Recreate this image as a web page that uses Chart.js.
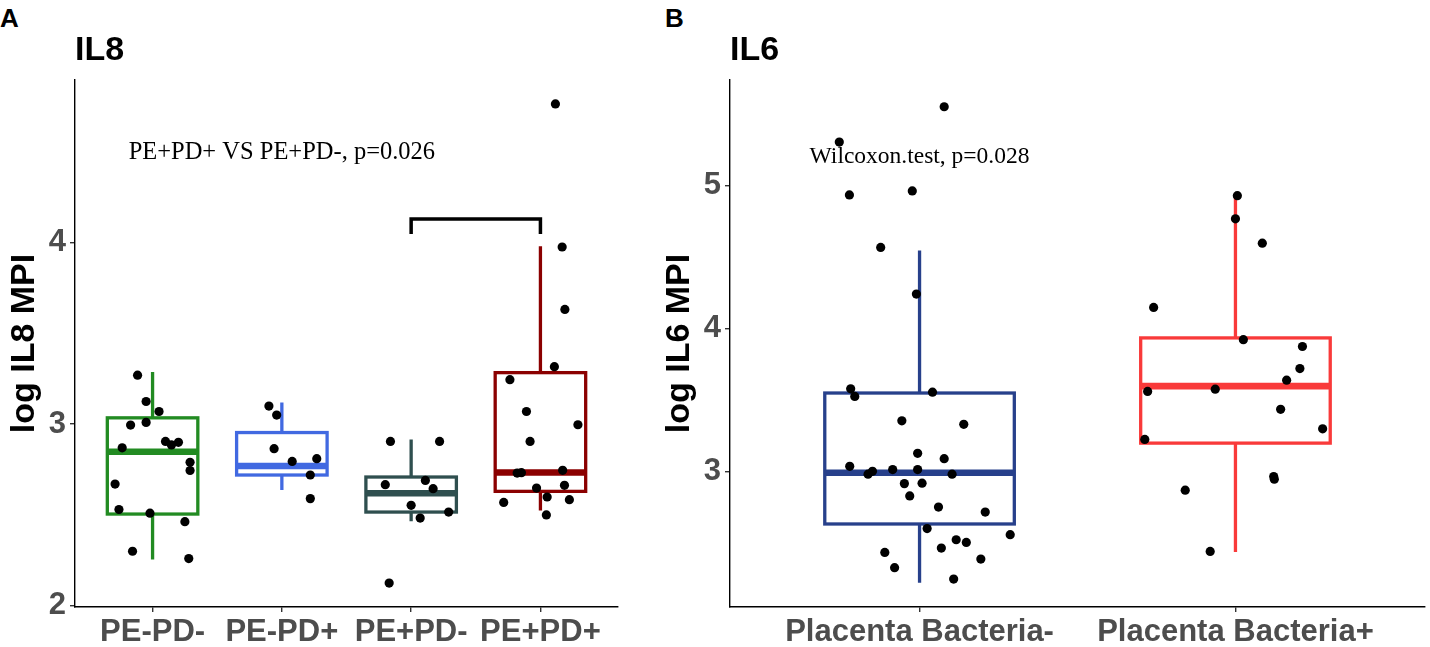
<!DOCTYPE html>
<html>
<head>
<meta charset="utf-8">
<title>IL8 / IL6</title>
<script src="https://cdn.jsdelivr.net/npm/chart.js@4.4.1/dist/chart.umd.min.js"></script>
<style>
  html, body { margin: 0; padding: 0; background: #fff; }
  body { position: relative; width: 1430px; height: 647px; overflow: hidden; font-family: 'Liberation Sans', Arial, sans-serif; }
  .panel { position: absolute; top: 0; height: 647px; }
  #panel-a { left: 0; width: 640px; }
  #panel-b { left: 655px; width: 775px; }
  .tag { position: absolute; top: 5px; font-size: 26px; font-weight: bold; line-height: 1; color: #000; }
</style>
</head>
<body>
<div class="tag" style="left:0">A</div>
<div class="tag" style="left:665px">B</div>
<div class="panel" id="panel-a"><canvas id="chart-a"></canvas></div>
<div class="panel" id="panel-b"><canvas id="chart-b"></canvas></div>
<script>
// ---- Panel A: IL8 ----
const categoriesA = ['PE-PD-', 'PE-PD+', 'PE+PD-', 'PE+PD+'];
const yTicksA = [2, 3, 4];
const boxColorsA = ['#228B22', '#4169E1', '#2F4F4F', '#8B0000'];
const q1A = [2.505, 2.72, 2.516, 2.63];
const medianA = [2.848, 2.77, 2.62, 2.734];
const q3A = [3.035, 2.954, 2.709, 3.284];
const whiskerLowA = [2.254, 2.637, 2.465, 2.525];
const whiskerHighA = [3.287, 3.12, 2.915, 3.98];

const pePdNegValues = [3.27, 3.125, 3.07, 2.995, 3.01, 2.87, 2.905, 2.886, 2.90, 2.79, 2.745, 2.67, 2.53, 2.51, 2.463, 2.30, 2.26];
const pePdNegJitter = [-0.116, -0.05, 0.05, -0.17, -0.05, -0.235, 0.10, 0.146, 0.20, 0.29, 0.29, -0.29, -0.26, -0.02, 0.25, -0.155, 0.28];
const pePdPosValues = [3.10, 3.05, 2.865, 2.795, 2.81, 2.72, 2.59];
const pePdPosJitter = [-0.10, -0.04, -0.06, 0.08, 0.27, 0.22, 0.22];
const pePosPdNegValues = [2.905, 2.905, 2.667, 2.69, 2.645, 2.553, 2.483, 2.516, 2.125];
const pePosPdNegJitter = [-0.16, 0.22, -0.2, 0.11, 0.17, 0.0, 0.07, 0.29, -0.17];
const pePosPdPosValues = [4.764, 3.976, 3.632, 3.317, 3.245, 3.07, 2.997, 2.905, 2.731, 2.733, 2.746, 2.648, 2.663, 2.569, 2.599, 2.584, 2.50];
const pePosPdPosJitter = [0.116, 0.168, 0.189, 0.108, -0.236, -0.108, 0.29, -0.08, -0.18, -0.147, 0.172, -0.03, 0.186, -0.284, 0.052, 0.224, 0.046];

// ---- Panel B: IL6 ----
const categoriesB = ['Placenta Bacteria-', 'Placenta Bacteria+'];
const yTicksB = [3, 4, 5];
const boxColorsB = ['#27408B', '#F93A3A'];
const q1B = [2.635, 3.20];
const medianB = [2.993, 3.598];
const q3B = [3.55, 3.935];
const whiskerLowB = [2.225, 2.44];
const whiskerHighB = [4.546, 4.92];

const bacteriaNegValues = [5.55, 5.303, 4.934, 4.962, 4.567, 4.241, 3.579, 3.526, 3.556, 3.356, 3.331, 3.129, 3.091, 3.038, 3.003, 2.983, 3.015, 3.015, 2.983, 2.917, 2.92, 2.831, 2.753, 2.718, 2.603, 2.56, 2.525, 2.506, 2.467, 2.436, 2.39, 2.33, 2.25];
const bacteriaNegJitter = [0.078, -0.254, -0.222, -0.023, -0.123, -0.01, -0.218, -0.205, 0.041, -0.056, 0.14, -0.006, 0.078, -0.221, -0.149, -0.163, -0.085, -0.006, 0.103, -0.048, 0.008, -0.031, 0.06, 0.208, 0.024, 0.287, 0.116, 0.148, 0.069, -0.11, 0.194, -0.079, 0.108];
const bacteriaPosValues = [4.929, 4.767, 4.597, 4.148, 3.923, 3.875, 3.721, 3.64, 3.577, 3.561, 3.436, 3.30, 3.226, 2.966, 2.948, 2.871, 2.443];
const bacteriaPosJitter = [0.006, 0.0, 0.085, -0.259, 0.025, 0.212, 0.204, 0.162, -0.064, -0.278, 0.143, 0.276, -0.287, 0.121, 0.123, -0.159, -0.08];

const SANS = "'Liberation Sans', Arial, Helvetica, sans-serif";
const SERIF = "'Liberation Serif', 'Times New Roman', serif";

// box + whiskers, drawn under the jittered points
const boxLayer = {
  id: 'boxLayer',
  beforeDatasetsDraw(chart, args, opts) {
    const { ctx, scales: { x, y } } = chart;
    ctx.save();
    opts.q1.forEach((q1, i) => {
      const c = i + 1;
      const left = x.getPixelForValue(c - opts.halfWidth);
      const right = x.getPixelForValue(c + opts.halfWidth);
      const mid = x.getPixelForValue(c);
      const top = y.getPixelForValue(opts.q3[i]);
      const bottom = y.getPixelForValue(q1);
      const med = y.getPixelForValue(opts.median[i]);
      ctx.strokeStyle = opts.colors[i];
      ctx.lineWidth = 3.3;
      ctx.beginPath();
      ctx.moveTo(mid, y.getPixelForValue(opts.whiskerHigh[i]));
      ctx.lineTo(mid, top);
      ctx.moveTo(mid, bottom);
      ctx.lineTo(mid, y.getPixelForValue(opts.whiskerLow[i]));
      ctx.stroke();
      ctx.fillStyle = '#fff';
      ctx.fillRect(left, top, right - left, bottom - top);
      ctx.strokeRect(left, top, right - left, bottom - top);
      ctx.lineWidth = 6.6;
      ctx.beginPath();
      ctx.moveTo(left, med);
      ctx.lineTo(right, med);
      ctx.stroke();
    });
    ctx.restore();
  }
};

// p-value text and optional comparison bracket
const annotationLayer = {
  id: 'annotationLayer',
  afterDatasetsDraw(chart, args, opts) {
    const { ctx, scales: { x, y } } = chart;
    ctx.save();
    ctx.font = opts.fontSize + 'px ' + SERIF;
    ctx.fillStyle = '#000';
    ctx.textAlign = 'center';
    ctx.textBaseline = 'middle';
    ctx.fillText(opts.text, x.getPixelForValue(opts.textX), y.getPixelForValue(opts.textY));
    if (opts.bracket) {
      const [from, to, yTop, yTip] = opts.bracket;
      ctx.strokeStyle = '#000';
      ctx.lineWidth = 3.5;
      ctx.beginPath();
      ctx.moveTo(x.getPixelForValue(from), y.getPixelForValue(yTip));
      ctx.lineTo(x.getPixelForValue(from), y.getPixelForValue(yTop));
      ctx.lineTo(x.getPixelForValue(to), y.getPixelForValue(yTop));
      ctx.lineTo(x.getPixelForValue(to), y.getPixelForValue(yTip));
      ctx.stroke();
    }
    ctx.restore();
  }
};

function makePanel(canvasId, cfg) {
  return new Chart(document.getElementById(canvasId), {
    type: 'scatter',
    plugins: [boxLayer, annotationLayer],
    data: {
      datasets: cfg.points.map(([values, jitter], i) => ({
        data: values.map((v, k) => ({ x: i + 1 + jitter[k], y: v })),
        pointRadius: 4.6,
        pointBackgroundColor: '#000',
        pointBorderWidth: 0,
        clip: false,
      })),
    },
    options: {
      animation: false,
      responsive: true,
      maintainAspectRatio: false,
      events: [],
      layout: {
        padding: { top: 30, right: cfg.rightPad, bottom: 0, left: 0 },
      },
      scales: {
        x: {
          type: 'linear',
          min: 0.4,
          max: cfg.categories.length + 0.6,
          afterBuildTicks: (s) => { s.ticks = cfg.categories.map((_, i) => ({ value: i + 1 })); },
          afterFit: (s) => { s.height = 40; },
          ticks: {
            autoSkip: false,
            maxRotation: 0,
            padding: 2,
            color: '#4D4D4D',
            font: { family: SANS, size: 31, weight: 'bold' },
            callback: (v, i) => cfg.categories[i],
          },
          grid: { drawOnChartArea: false, tickLength: 5, color: '#333', lineWidth: 1.4 },
          border: { color: '#000', width: 1.4 },
        },
        y: {
          min: cfg.yMin,
          max: cfg.yMax,
          afterBuildTicks: (s) => { s.ticks = cfg.yTicks.map((v) => ({ value: v })); },
          afterFit: (s) => { s.width = 75; },
          ticks: {
            padding: 4,
            color: '#4D4D4D',
            font: { family: SANS, size: 31, weight: 'bold' },
          },
          grid: { drawOnChartArea: false, tickLength: 5, color: '#333', lineWidth: 1.4 },
          border: { color: '#000', width: 1.4 },
          title: {
            display: true,
            text: cfg.yTitle,
            color: '#000',
            font: { family: SANS, size: 34, weight: 'bold' },
            padding: { top: 4, bottom: 0 },
          },
        },
      },
      plugins: {
        legend: { display: false },
        tooltip: { enabled: false },
        title: {
          display: true,
          text: cfg.title,
          align: 'start',
          fullSize: false,
          color: '#000',
          font: { family: SANS, size: 34, weight: 'bold' },
          padding: { top: 0, bottom: 9.2 },
        },
        boxLayer: {
          halfWidth: cfg.halfWidth,
          colors: cfg.boxColors,
          q1: cfg.q1, median: cfg.median, q3: cfg.q3,
          whiskerLow: cfg.whiskerLow, whiskerHigh: cfg.whiskerHigh,
        },
        annotationLayer: cfg.annotation,
      },
    },
  });
}

makePanel('chart-a', {
  title: 'IL8',
  yTitle: 'log IL8 MPI',
  categories: categoriesA,
  yTicks: yTicksA,
  yMin: 1.993,
  yMax: 4.896,
  rightPad: 22,
  halfWidth: 0.35,
  boxColors: boxColorsA,
  q1: q1A, median: medianA, q3: q3A, whiskerLow: whiskerLowA, whiskerHigh: whiskerHighA,
  points: [
    [pePdNegValues, pePdNegJitter],
    [pePdPosValues, pePdPosJitter],
    [pePosPdNegValues, pePosPdNegJitter],
    [pePosPdPosValues, pePosPdPosJitter],
  ],
  annotation: { text: 'PE+PD+ VS PE+PD-, p=0.026', textX: 2.0, textY: 4.494, fontSize: 24.5, bracket: [3, 4, 4.13, 4.047] },
});

makePanel('chart-b', {
  title: 'IL6',
  yTitle: 'log IL6 MPI',
  categories: categoriesB,
  yTicks: yTicksB,
  yMin: 2.055,
  yMax: 5.737,
  rightPad: 5,
  halfWidth: 0.3,
  boxColors: boxColorsB,
  q1: q1B, median: medianB, q3: q3B, whiskerLow: whiskerLowB, whiskerHigh: whiskerHighB,
  points: [
    [bacteriaNegValues, bacteriaNegJitter],
    [bacteriaPosValues, bacteriaPosJitter],
  ],
  annotation: { text: 'Wilcoxon.test, p=0.028', textX: 1.0, textY: 5.203, fontSize: 23.5 },
});
</script>
</body>
</html>
